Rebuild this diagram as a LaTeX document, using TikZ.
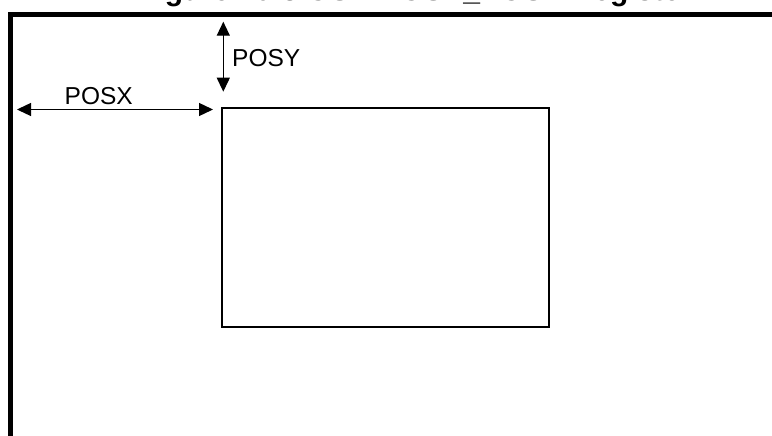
\documentclass[tikz,border=0pt]{standalone}
\usepackage{fontspec}
\setmainfont{Liberation Sans}
\usetikzlibrary{arrows.meta}
\tikzset{
  dimarrow/.style={line width=1.3pt, {Triangle[length=14pt,width=13pt]}-{Triangle[length=14pt,width=13pt]}},
  dimlabel/.style={inner sep=0pt, anchor=base west, font=\fontsize{24.5}{28}\selectfont},
  framebox/.style={line width=4.5pt},
  winbox/.style={draw, line width=1.6pt, inner sep=0pt, outer sep=0pt, minimum width=327pt, minimum height=219pt, anchor=north west},
  titletext/.style={inner sep=0pt, anchor=base west, font=\fontsize{30}{34}\selectfont\bfseries}
}
\begin{document}
\begin{tikzpicture}[x=1pt,y=-1pt]
\useasboundingbox (0,0) rectangle (772,436);
\clip (0,0) rectangle (772,436);
\fill[white] (0,0) rectangle (772,436);
% title (cut off at the top of the picture)
\node[titletext] (title) at (138,0.5) {Figure 10-3 OSD POSX\_POSY Register};
% outer frame
\coordinate (fbl) at (10.7,450);
\coordinate (ftl) at (10.7,14.5);
\coordinate (ftr) at (790,14.5);
\draw[framebox] (fbl) -- (ftl) -- (ftr);
% window
\node[winbox] (win) at (222,108) {};
% POSX arrow
\coordinate (xa) at (17,109.5);
\coordinate (xb) at (213,109.5);
\draw[dimarrow] (xa) -- (xb);
\node[dimlabel] (posx) at (64.5,105) {POSX};
% POSY arrow
\coordinate (ya) at (223.3,21.7);
\coordinate (yb) at (223.3,91.7);
\draw[dimarrow] (ya) -- (yb);
\node[dimlabel] (posy) at (232,66.5) {POSY};
\end{tikzpicture}
\end{document}
